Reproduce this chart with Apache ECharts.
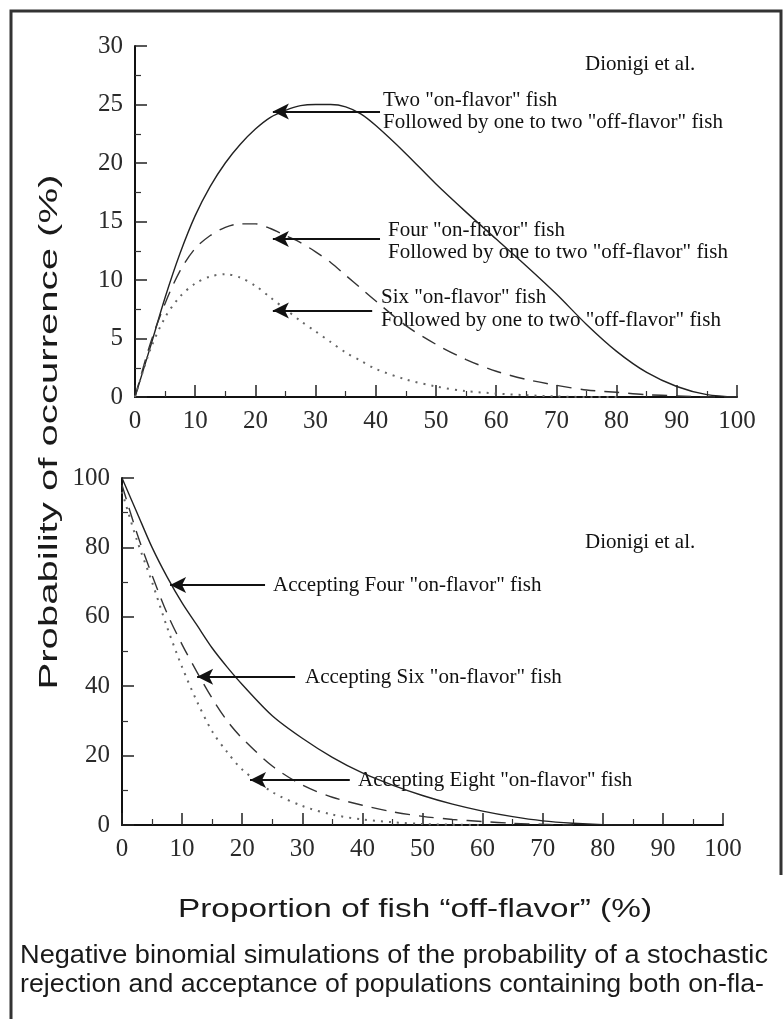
<!DOCTYPE html>
<html>
<head>
<meta charset="utf-8">
<script src="https://cdn.jsdelivr.net/npm/echarts@6/dist/echarts.min.js"></script>
<style>
  html, body { margin: 0; padding: 0; background: #fff; }
  #chart { width: 783px; height: 1019px; }
</style>
</head>
<body>
<div id="chart"></div>
<script>
// ---- data ----
// top panel: probability of a rejection (%) vs proportion off-flavor (%)
var xTop = [0, 2.5, 5, 7.5, 10, 12.5, 15, 17.5, 20, 22.5, 25, 27.5, 30, 32.5, 35, 37.5, 40, 45, 50, 55, 60, 65, 70, 75, 80, 85, 90, 95, 100];
var twoOnFlavor = [0, 4.2, 8.5, 12.3, 15.5, 18, 20, 21.6, 22.9, 23.9, 24.5, 24.9, 25, 25, 24.8, 24.2, 23.2, 20.8, 18.2, 15.8, 13.5, 11.2, 8.8, 6.2, 3.9, 2.1, 0.9, 0.2, 0];
var fourOnFlavor = [0, 4.5, 8, 10.8, 12.7, 13.8, 14.5, 14.8, 14.8, 14.4, 13.8, 13.2, 12.4, 11.5, 10.4, 9.3, 8.2, 6.1, 4.5, 3.2, 2.2, 1.5, 1.0, 0.6, 0.4, 0.2, 0.1, 0, 0];
var sixOnFlavor = [0, 4, 6.8, 8.6, 9.7, 10.3, 10.5, 10.2, 9.5, 8.5, 7.5, 6.5, 5.6, 4.7, 3.8, 3.1, 2.4, 1.5, 0.9, 0.5, 0.3, 0.15, 0.05, 0, 0];

// bottom panel: probability of acceptance (%)
var xBottom = [0, 2.5, 5, 7.5, 10, 12.5, 15, 17.5, 20, 25, 30, 35, 40, 45, 50, 55, 60, 65, 70, 75, 80, 85, 90];
var acceptFour = [100, 90, 80, 71.5, 64, 57.5, 51, 45.5, 40.5, 31.5, 25, 19.5, 15, 11.5, 8.5, 6, 4, 2.4, 1.2, 0.5, 0.1, 0];
var acceptSix = [98, 84, 72, 61, 52, 44, 36.5, 30, 25, 17, 11.5, 8, 5.7, 3.8, 2.5, 1.6, 1, 0.5, 0.2, 0];
var acceptEight = [96, 82, 70, 57, 45.5, 35.5, 27, 21, 16, 9.5, 5.5, 3, 1.6, 0.8, 0.3, 0.1, 0];

// arrows: [from x, to x, y]
var topArrows = [[40.7, 22.9, 24.4], [40.7, 22.9, 13.5], [39.4, 22.9, 7.4]];
var bottomArrows = [[23.8, 8, 69.2], [28.8, 12.5, 42.7], [37.9, 21.3, 13]];

// tick labels
var topYTicks = [0, 5, 10, 15, 20, 25, 30];
var bottomYTicks = [0, 20, 40, 60, 80, 100];
var xTicks = [0, 10, 20, 30, 40, 50, 60, 70, 80, 90, 100];

var serif = '"Liberation Serif", "Times New Roman", serif';
var sans = '"Liberation Sans", Arial, sans-serif';

// zip x and y arrays
function pairs(xs, ys) {
  return ys.map(function (v, i) { return [xs[i], v]; });
}

// width of a text in px, used to stretch titles to the picture's width
var measureCtx = document.createElement('canvas').getContext('2d');
function textWidth(text, font) {
  measureCtx.font = font;
  return measureCtx.measureText(text).width;
}

function arrowLines(list) {
  return {
    silent: true,
    symbol: ['none', 'arrow'],
    symbolSize: [12, 16],
    label: { show: false },
    lineStyle: { color: '#111', width: 2.2, type: 'solid' },
    data: list.map(function (a) {
      return [{ coord: [a[0], a[2]] }, { coord: [a[1], a[2]] }];
    })
  };
}

function xAxisOf(gridIndex) {
  return {
    type: 'value', gridIndex: gridIndex, min: 0, max: 100, interval: 10,
    axisLine: { lineStyle: { color: '#111', width: 2 } },
    axisTick: { inside: true, length: 12, lineStyle: { color: '#222', width: 1.5 } },
    minorTick: { show: true, splitNumber: 2, length: 6, lineStyle: { color: '#333', width: 1.2 } },
    splitLine: { show: false },
    axisLabel: {
      margin: 12, color: '#2a2a2a', fontFamily: serif, fontSize: 25,
      customValues: xTicks
    }
  };
}

function yAxisOf(gridIndex, max, interval, ticks) {
  return {
    type: 'value', gridIndex: gridIndex, min: 0, max: max, interval: interval,
    axisLine: { show: true, lineStyle: { color: '#111', width: 2 } },
    axisTick: { show: true, inside: true, length: 12, lineStyle: { color: '#222', width: 1.5 } },
    minorTick: { show: true, splitNumber: 2, length: 6, lineStyle: { color: '#333', width: 1.2 } },
    splitLine: { show: false },
    axisLabel: { margin: 12, color: '#2a2a2a', fontFamily: serif, fontSize: 25 }
  };
}

function curve(name, xi, yi, xs, ys, type, width, color) {
  return {
    name: name, type: 'line', xAxisIndex: xi, yAxisIndex: yi,
    data: pairs(xs, ys), smooth: 0.3, symbol: 'none',
    lineStyle: { type: type, width: width, color: color }
  };
}

function label(text, x, y, size, fam, color) {
  return {
    type: 'text', x: x, y: y, silent: true,
    style: {
      text: text, fontSize: size, fontFamily: fam, fill: color || '#111',
      textAlign: 'left', textVerticalAlign: 'middle', align: 'left', verticalAlign: 'middle'
    }
  };
}

// stretched sans title / caption line (the scan is tall and spaced out)
function stretched(text, cx, cy, size, length, rotate, alignLeft) {
  var w = textWidth(text, size + 'px ' + sans);
  return {
    type: 'text', x: cx, y: cy, silent: true,
    scaleX: length / w, scaleY: 1.15,
    rotation: rotate ? Math.PI / 2 : 0,
    style: {
      text: text, fontSize: size, fontFamily: sans, fill: '#1a1a1a',
      textAlign: alignLeft ? 'left' : 'center', align: alignLeft ? 'left' : 'center',
      textVerticalAlign: 'middle', verticalAlign: 'middle'
    }
  };
}

var chart = echarts.init(document.getElementById('chart'));

var followed = 'Followed by one to two "off-flavor" fish';

chart.setOption({
  animation: false,
  backgroundColor: '#fff',
  grid: [
    { left: 135, right: 46, top: 46, bottom: 622 },
    { left: 122, right: 60, top: 478, bottom: 194 }
  ],
  xAxis: [xAxisOf(0), xAxisOf(1)],
  yAxis: [yAxisOf(0, 30, 5, topYTicks), yAxisOf(1, 100, 20, bottomYTicks)],
  series: [
    Object.assign(curve('Two "on-flavor" fish', 0, 0, xTop, twoOnFlavor, 'solid', 1.4, '#222'), { markLine: arrowLines(topArrows) }),
    curve('Four "on-flavor" fish', 0, 0, xTop, fourOnFlavor, [15, 9], 1.4, '#333'),
    curve('Six "on-flavor" fish', 0, 0, xTop, sixOnFlavor, [2, 6], 2, '#666'),
    Object.assign(curve('Accepting Four', 1, 1, xBottom, acceptFour, 'solid', 1.4, '#222'), { markLine: arrowLines(bottomArrows) }),
    curve('Accepting Six', 1, 1, xBottom, acceptSix, [15, 9], 1.4, '#333'),
    curve('Accepting Eight', 1, 1, xBottom, acceptEight, [2, 6], 2, '#666')
  ],
  graphic: [
    // outer frame
    { type: 'polyline', silent: true, shape: { points: [[11, 1019], [11, 11], [781, 11], [781, 875]] },
      style: { stroke: '#333', lineWidth: 3, fill: null } },
    label('Dionigi et al.', 585, 64, 21, serif),
    label('Two "on-flavor" fish', 383, 100, 21, serif),
    label(followed, 383, 122, 21, serif),
    label('Four "on-flavor" fish', 388, 230, 21, serif),
    label(followed, 388, 252, 21, serif),
    label('Six "on-flavor" fish', 381, 297, 21, serif),
    label(followed, 381, 320, 21, serif),
    label('Dionigi et al.', 585, 542, 21, serif),
    label('Accepting Four "on-flavor" fish', 273, 585, 21, serif),
    label('Accepting Six "on-flavor" fish', 305, 677, 21, serif),
    label('Accepting Eight "on-flavor" fish', 358, 780, 21, serif),
    stretched('Probability of occurrence (%)', 50, 432, 23, 515, true, false),
    stretched('Proportion of fish \u201coff-flavor\u201d (%)', 415, 910, 22, 474, false, false),
    stretched('Negative binomial simulations of the probability of a stochastic', 20, 956, 22, 748, false, true),
    stretched('rejection and acceptance of populations containing both on-fla-', 20, 985, 22, 744, false, true)
  ]
});
</script>
</body>
</html>
